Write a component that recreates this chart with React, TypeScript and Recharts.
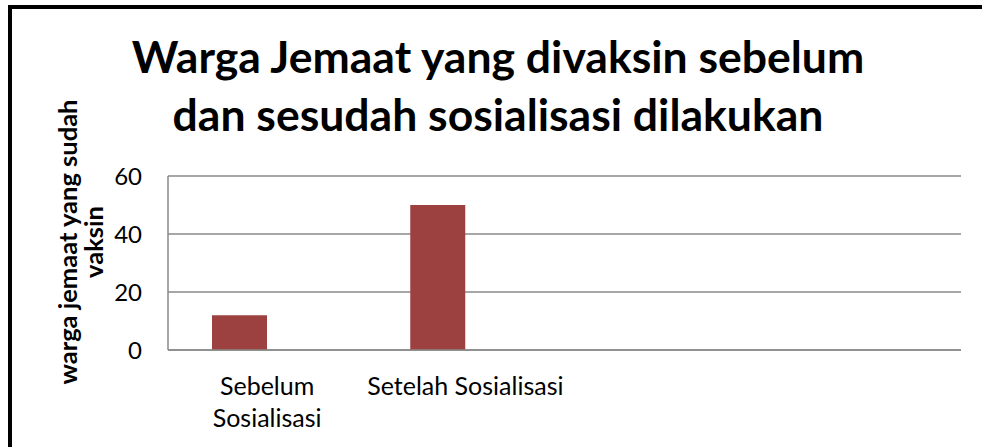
import React from 'react';
import { BarChart, Bar, XAxis, YAxis, CartesianGrid } from 'recharts';

const categories = ['Sebelum Sosialisasi', 'Setelah Sosialisasi', '', ''];
const vaksinValues = [12, 50, null, null];
const emptySeries = [null, null, null, null];
const tickLabelLines = [['Sebelum', 'Sosialisasi'], ['Setelah Sosialisasi'], [], []];
const yTicks = [0, 20, 40, 60];

const chartData = categories.map((name, i) => ({
    name,
    vaksin: vaksinValues[i],
    kosong: emptySeries[i],
}));

const FONT = 'Lato, "Open Sans", sans-serif';

const CategoryTick = (props: any) => {
    const { x, y, index } = props;
    const lines = tickLabelLines[index] || [];
    return (
        <g>
            {lines.map((line, i) => (
                <text
                    key={i}
                    x={x}
                    y={y + 45 + i * 32}
                    textAnchor="middle"
                    fill="#000"
                    fontSize={25}
                    fontFamily={FONT}
                >
                    {line}
                </text>
            ))}
        </g>
    );
};

const App: React.FC = () => {
    return (
        <div
            style={{
                position: 'absolute',
                left: 0,
                top: 0,
                width: 982,
                height: 447,
                background: '#fff',
                overflow: 'hidden',
                fontFamily: FONT,
            }}
        >
            <div
                style={{
                    position: 'absolute',
                    left: 8,
                    top: 5,
                    width: 990,
                    height: 460,
                    borderTop: '4px solid #000',
                    borderLeft: '4px solid #000',
                }}
            />
            <div
                style={{
                    position: 'absolute',
                    left: 14,
                    top: 27,
                    width: 968,
                    textAlign: 'center',
                    fontWeight: 700,
                    fontSize: 44.5,
                    lineHeight: '58px',
                    color: '#000',
                }}
            >
                Warga Jemaat yang divaksin sebelum
                <br />
                dan sesudah sosialisasi dilakukan
            </div>
            <div
                style={{
                    position: 'absolute',
                    left: 80 - 160,
                    top: 242 - 26,
                    width: 320,
                    height: 52,
                    transform: 'rotate(-90deg)',
                    textAlign: 'center',
                    fontWeight: 700,
                    fontSize: 25.5,
                    lineHeight: '26px',
                    color: '#000',
                }}
            >
                warga jemaat yang sudah
                <br />
                vaksin
            </div>
            <div style={{ position: 'absolute', left: 0, top: 0 }}>
                <BarChart
                    width={982}
                    height={447}
                    data={chartData}
                    margin={{ top: 176, right: 21, bottom: 37, left: 108 }}
                    barGap={0}
                    barSize={55}
                >
                    <CartesianGrid vertical={false} stroke="#8a8a8a" strokeWidth={1.5} />
                    <XAxis
                        dataKey="name"
                        height={60}
                        axisLine={{ stroke: '#8a8a8a', strokeWidth: 1.5 }}
                        tickLine={false}
                        tickSize={0}
                        tickMargin={0}
                        interval={0}
                        tick={<CategoryTick />}
                    />
                    <YAxis
                        width={60}
                        domain={[0, 60]}
                        ticks={yTicks}
                        axisLine={{ stroke: '#8a8a8a', strokeWidth: 1.5 }}
                        tickLine={false}
                        tickSize={0}
                        tickMargin={26}
                        tick={{ fill: '#000', fontSize: 24, fontFamily: FONT }}
                    />
                    <Bar dataKey="vaksin" fill="#9c4140" isAnimationActive={false} />
                    <Bar dataKey="kosong" fill="#4f81bd" isAnimationActive={false} />
                </BarChart>
            </div>
        </div>
    );
};

export default App;
